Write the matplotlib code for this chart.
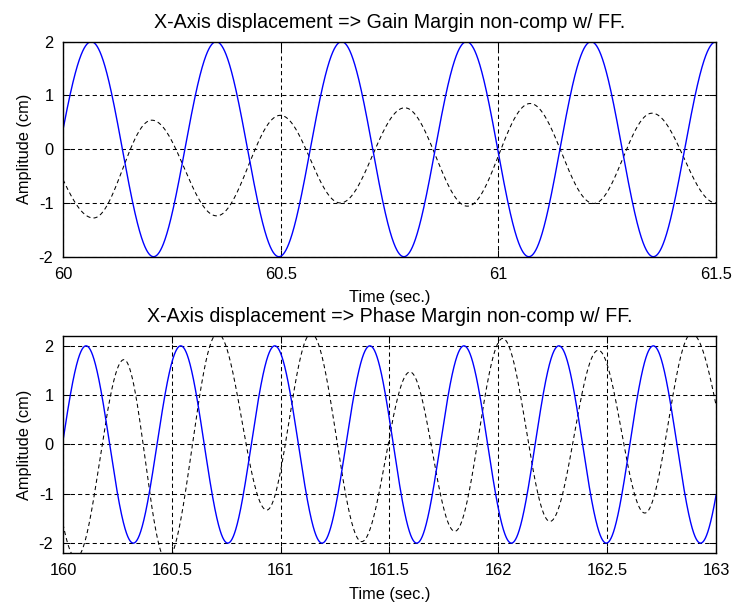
import numpy as np
import matplotlib
matplotlib.use("Agg")
import matplotlib.pyplot as plt

# top panel: gain margin run, extrema (time sec, cm)
gain_ref_t = [59.918, 60.065, 60.208, 60.352, 60.496, 60.640, 60.783, 60.927,
              61.070, 61.213, 61.356, 61.500, 61.643]
gain_ref_y = [-2, 2, -2, 2, -2, 2, -2, 2, -2, 2, -2, 2, -2]
gain_out_t = [59.91, 60.07, 60.204, 60.353, 60.499, 60.637, 60.785, 60.929,
              61.073, 61.219, 61.353, 61.50, 61.64]
gain_out_y = [0.5, -1.28, 0.54, -1.24, 0.63, -1.00, 0.77, -1.06,
              0.85, -1.01, 0.67, -1.00, 0.6]

# bottom panel: phase margin run
phase_ref_t = [159.889, 160.106, 160.323, 160.541, 160.757, 160.973, 161.190, 161.410,
               161.625, 161.842, 162.060, 162.278, 162.496, 162.712, 162.929, 163.146]
phase_ref_y = [-2, 2, -2, 2, -2, 2, -2, 2, -2, 2, -2, 2, -2, 2, -2, 2]
phase_out_t = [159.84, 160.06, 160.28, 160.476, 160.71, 160.936, 161.14, 161.372,
               161.594, 161.80, 162.02, 162.237, 162.459, 162.673, 162.888, 163.15]
phase_out_y = [1.7, -2.3, 1.72, -2.35, 2.25, -1.33, 2.25, -1.97,
               1.47, -1.76, 2.15, -1.56, 1.91, -1.39, 2.25, -1.5]

gain_xticks = [60, 60.5, 61, 61.5]
gain_xlabels = ["60", "60.5", "61", "61.5"]
phase_xticks = [160, 160.5, 161, 161.5, 162, 162.5, 163]
phase_xlabels = ["160", "160.5", "161", "161.5", "162", "162.5", "163"]
yticks = [-2, -1, 0, 1, 2]
ylabels = ["-2", "-1", "0", "1", "2"]

plt.rcParams["font.family"] = ["Liberation Sans", "DejaVu Sans"]
plt.rcParams["font.size"] = 11.8


def through_extrema(t_ext, y_ext, t):
    # smooth half-cosine swing between successive turning points
    t_ext = np.asarray(t_ext, float)
    y_ext = np.asarray(y_ext, float)
    i = np.clip(np.searchsorted(t_ext, t) - 1, 0, len(t_ext) - 2)
    f = (t - t_ext[i]) / (t_ext[i + 1] - t_ext[i])
    w = (1 - np.cos(np.pi * f)) / 2
    return y_ext[i] + (y_ext[i + 1] - y_ext[i]) * w


def draw_panel(ax, ref_t, ref_y, out_t, out_y, xticks, xlabels, ylim, title):
    t = np.linspace(xticks[0], xticks[-1], 4000)
    ax.plot(t, through_extrema(out_t, out_y, t), color="black", lw=0.75, ls=(0, (4, 3)))
    ax.plot(t, through_extrema(ref_t, ref_y, t), color="#0000ff", lw=1.0)
    ax.set_xlim(xticks[0], xticks[-1])
    ax.set_ylim(ylim)
    ax.set_xticks(xticks)
    ax.set_xticklabels(xlabels)
    ax.set_yticks(yticks)
    ax.set_yticklabels(ylabels)
    ax.grid(True, color="black", lw=0.75, ls=(0, (4, 3)))
    ax.tick_params(direction="in", top=True, right=True, length=5, width=0.75)
    ax.tick_params(axis="x", pad=7.5)
    ax.tick_params(axis="y", pad=7)
    for s in ax.spines.values():
        s.set_linewidth(1.0)
    ax.set_title(title, pad=10)
    ax.set_xlabel("Time (sec.)", labelpad=6)
    ax.set_ylabel("Amplitude (cm)", labelpad=5)


def main():
    fig = plt.figure(figsize=(7.34, 6.07), dpi=100)
    ax1 = fig.add_axes([0.0858, 0.5771, 0.8897, 0.3542])
    ax2 = fig.add_axes([0.0858, 0.0890, 0.8897, 0.3575])
    draw_panel(ax1, gain_ref_t, gain_ref_y, gain_out_t, gain_out_y,
               gain_xticks, gain_xlabels, (-2, 2),
               "X-Axis displacement => Gain Margin non-comp w/ FF.")
    draw_panel(ax2, phase_ref_t, phase_ref_y, phase_out_t, phase_out_y,
               phase_xticks, phase_xlabels, (-2.2, 2.2),
               "X-Axis displacement => Phase Margin non-comp w/ FF.")
    fig.savefig("out.png", dpi=100, facecolor="white")


if __name__ == "__main__":
    main()
